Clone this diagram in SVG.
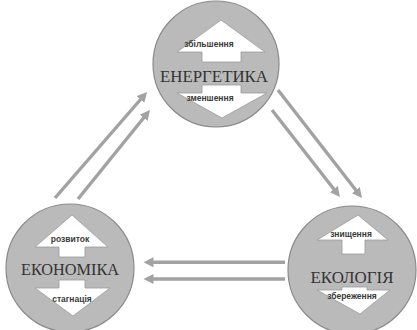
<svg xmlns="http://www.w3.org/2000/svg" width="417" height="330" viewBox="0 0 417 330">
<style>
.circ{fill:#bababa;stroke:#8a8a8a;stroke-width:1.2}
.wa{fill:#ffffff;stroke:#9a9a9a;stroke-width:0.8;stroke-linejoin:miter}
.big{font-family:"Liberation Serif","Times New Roman",serif;font-size:17px;fill:#333333;text-anchor:middle}
.small{font-family:"Liberation Sans",Arial,sans-serif;font-size:8.5px;font-weight:bold;fill:#3a3a3a;text-anchor:middle}
.con{stroke:#a2a2a2;stroke-width:3.4;fill:none;marker-end:url(#ah)}
</style>
<defs>
<marker id="ah" markerUnits="userSpaceOnUse" markerWidth="11" markerHeight="10" refX="4" refY="5" orient="auto">
<path d="M0,0 L10,5 L0,10 z" fill="#a2a2a2"/>
</marker>
</defs>
<rect width="417" height="330" fill="#ffffff"/>
<g id="energetyka">
<circle class="circ" cx="216" cy="64" r="63"/>
<polygon class="wa" points="221,20 265,52 241,52 241,62 202,62 202,52 177,52"/>
<polygon class="wa" points="202,85 241,85 241,93 267,93 222,118 177,93 202,93"/>
<text class="small" x="209" y="47">збільшення</text>
<text class="big" x="214" y="82" textLength="108" lengthAdjust="spacingAndGlyphs">ЕНЕРГЕТИКА</text>
<text class="small" x="210" y="101">зменшення</text>
</g>
<g id="ekonomika">
<circle class="circ" cx="70" cy="268" r="64"/>
<polygon class="wa" points="72,215 108,247 85,247 85,257 59,257 59,247 35,247"/>
<polygon class="wa" points="59,280 85,280 85,288 110,288 73,316 35,288 59,288"/>
<text class="small" x="70" y="242">розвиток</text>
<text class="big" x="70" y="275" textLength="98" lengthAdjust="spacingAndGlyphs">ЕКОНОМІКА</text>
<text class="small" x="72" y="302">стагнація</text>
</g>
<g id="ekologiya">
<circle class="circ" cx="352" cy="270" r="64"/>
<polygon class="wa" points="358,215 388,240 365,240 365,254 342,254 342,240 317,240"/>
<polygon class="wa" points="342,287 367,287 367,290 390,290 360,314 317,290 342,290"/>
<text class="small" x="351" y="237">знищення</text>
<text class="big" x="352" y="283" textLength="83" lengthAdjust="spacingAndGlyphs">ЕКОЛОГІЯ</text>
<text class="small" x="352" y="299">збереження</text>
</g>
<g id="connectors">
<line class="con" x1="55" y1="198" x2="143.1" y2="96.5"/>
<line class="con" x1="78" y1="199" x2="146.2" y2="114.7"/>
<line class="con" x1="278" y1="90" x2="358.3" y2="193.3"/>
<line class="con" x1="272" y1="110" x2="336.3" y2="192.3"/>
<line class="con" x1="285" y1="262.3" x2="149.5" y2="262.3"/>
<line class="con" x1="285" y1="279" x2="149.5" y2="279"/>
</g>
</svg>
